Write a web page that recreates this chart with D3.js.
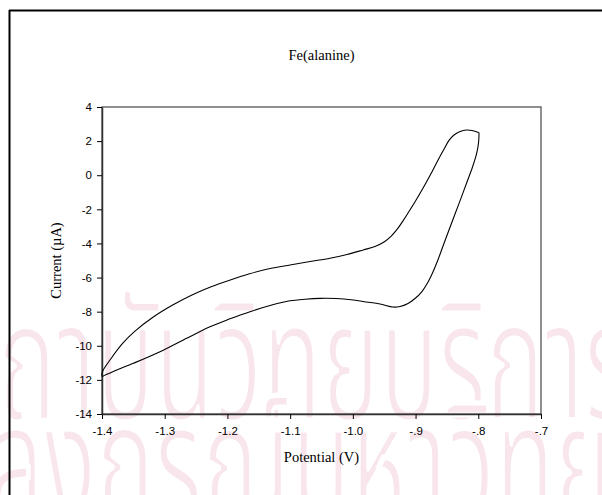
<!DOCTYPE html>
<html>
<head>
<meta charset="utf-8">
<script src="https://cdn.jsdelivr.net/npm/d3@7/dist/d3.min.js"></script>
<style>
  body { margin: 0; background: #fff; }
  svg { display: block; }
</style>
</head>
<body>
<svg id="chart" width="602" height="495"></svg>
<script>
// Cyclic voltammogram of Fe(alanine): one closed scan, listed in path order
// (down the right-hand branch, leftwards along the lower branch, back along the upper one).
const potential = [
  -0.7988, -0.7995, -0.8025, -0.8092, -0.8180, -0.8275, -0.8371, -0.8467, -0.8562, -0.8650,
  -0.8730, -0.8810, -0.8905, -0.9009, -0.9121, -0.9248, -0.9360,
  -0.9567, -0.9790, -0.9993, -1.0269, -1.0524, -1.0763, -1.1002, -1.1321, -1.1640, -1.1959,
  -1.2278, -1.2649, -1.3075, -1.3501, -1.3745, -1.3968, -1.3995,
  -1.3992, -1.3852, -1.3668, -1.3483, -1.3177, -1.2873, -1.2565, -1.2260, -1.1954, -1.1648,
  -1.1321, -1.1002, -1.0683, -1.0364, -1.0093, -0.9833, -0.9647, -0.9503, -0.9392, -0.9296,
  -0.9200, -0.9105, -0.9001, -0.8889, -0.8770, -0.8658, -0.8554, -0.8467, -0.8387, -0.8299,
  -0.8184, -0.8100, -0.7988
];
const current = [
  2.49, 1.95, 1.29, 0.48, -0.40, -1.34, -2.27, -3.21, -4.15, -5.03,
  -5.73, -6.32, -6.85, -7.23, -7.52, -7.70, -7.73,
  -7.55, -7.43, -7.32, -7.23, -7.22, -7.27, -7.36, -7.64, -8.00, -8.42,
  -8.88, -9.56, -10.35, -11.03, -11.39, -11.75, -11.80,
  -11.52, -10.73, -9.85, -9.17, -8.30, -7.61, -7.02, -6.54, -6.14, -5.78,
  -5.47, -5.26, -5.06, -4.87, -4.65, -4.38, -4.18, -3.92, -3.59, -3.18,
  -2.68, -2.13, -1.51, -0.81, -0.02, 0.78, 1.48, 2.04, 2.36, 2.55,
  2.65, 2.62, 2.49
];

const xTicks = [-1.4, -1.3, -1.2, -1.1, -1.0, -0.9, -0.8, -0.7];
const xTickLabels = ["-1.4", "-1.3", "-1.2", "-1.1", "-1.0", "-.9", "-.8", "-.7"];
const yTicks = [4, 2, 0, -2, -4, -6, -8, -10, -12, -14];
const yTickLabels = ["4", "2", "0", "-2", "-4", "-6", "-8", "-10", "-12", "-14"];

const titleText = "Fe(alanine)";
const xLabelText = "Potential (V)";
const yLabelText = "Current (\u00B5A)";
const watermarkLines = ["\u0E2A\u0E16\u0E32\u0E1A\u0E31\u0E19\u0E27\u0E34\u0E17\u0E22\u0E1A\u0E23\u0E34\u0E01\u0E32\u0E23",
                        "\u0E08\u0E38\u0E2C\u0E32\u0E25\u0E07\u0E01\u0E23\u0E13\u0E4C\u0E21\u0E2B\u0E32\u0E27\u0E34\u0E17\u0E22\u0E32\u0E25\u0E31\u0E22"];

const svg = d3.select("#chart");
const W = 602, H = 495;
const plot = { left: 102, top: 107, width: 439, height: 307 };

// faint, tall background lettering of the page (a white outline thins the strokes)
const wmFont = "'Noto Sans Thai', 'Noto Sans', sans-serif";
const wm = svg.append("g").attr("fill", "#f8e6ec")
  .attr("stroke", "#fff").attr("stroke-width", 5).attr("stroke-linejoin", "round");
wm.append("g").attr("transform", "translate(0,420) scale(0.58,1)")
  .append("text").attr("x", -100).attr("y", 0)
  .style("font-family", wmFont).style("font-size", "168px")
  .text(watermarkLines[0]);
wm.append("g").attr("transform", "translate(0,522) scale(0.58,1)")
  .append("text").attr("x", -290).attr("y", 0)
  .style("font-family", wmFont).style("font-size", "168px")
  .text(watermarkLines[1]);

// page frame (left and top edges)
svg.append("line").attr("x1", 9.5).attr("y1", 10).attr("x2", 9.5).attr("y2", H)
  .attr("stroke", "#000").attr("stroke-width", 2);
svg.append("line").attr("x1", 9).attr("y1", 10.5).attr("x2", W).attr("y2", 10.5)
  .attr("stroke", "#000").attr("stroke-width", 2);

const x = d3.scaleLinear().domain([-1.4, -0.7]).range([plot.left, plot.left + plot.width]);
const y = d3.scaleLinear().domain([-14, 4]).range([plot.top + plot.height, plot.top]);

// plot box
svg.append("rect")
  .attr("x", plot.left).attr("y", plot.top)
  .attr("width", plot.width).attr("height", plot.height)
  .attr("fill", "none").attr("stroke", "#555").attr("stroke-width", 1.3);

const tickFont = "'Liberation Sans', Arial, sans-serif";
const serif = "'Liberation Serif', 'Times New Roman', serif";

const xAxis = svg.append("g")
  .attr("transform", `translate(0,${plot.top + plot.height})`)
  .call(d3.axisBottom(x).tickValues(xTicks)
    .tickFormat((d, i) => xTickLabels[i]).tickSizeInner(5).tickSizeOuter(0).tickPadding(8));
const yAxis = svg.append("g")
  .attr("transform", `translate(${plot.left},0)`)
  .call(d3.axisLeft(y).tickValues(yTicks)
    .tickFormat((d, i) => yTickLabels[i]).tickSizeInner(5).tickSizeOuter(0).tickPadding(5));

[xAxis, yAxis].forEach(g => {
  g.select(".domain").attr("stroke", "#333").attr("stroke-width", 1.5);
  g.selectAll(".tick line").attr("stroke", "#000").attr("stroke-width", 1);
  g.selectAll(".tick text").attr("fill", "#000")
    .style("font-family", tickFont).style("font-size", "11.5px");
});

// voltammogram trace
const pts = potential.map((p, i) => [p, current[i]]);
svg.append("path")
  .datum(pts)
  .attr("fill", "none")
  .attr("stroke", "#000")
  .attr("stroke-width", 1.1)
  .attr("stroke-linejoin", "round")
  .attr("d", d3.line().x(d => x(d[0])).y(d => y(d[1])).curve(d3.curveCatmullRom.alpha(0.5)));

// titles
svg.append("text").attr("x", plot.left + plot.width / 2).attr("y", 60)
  .attr("text-anchor", "middle").style("font-family", serif).style("font-size", "14.5px")
  .text(titleText);
svg.append("text").attr("x", plot.left + plot.width / 2).attr("y", 462)
  .attr("text-anchor", "middle").style("font-family", serif).style("font-size", "14.5px")
  .text(xLabelText);
svg.append("text")
  .attr("transform", `translate(61,${plot.top + plot.height / 2}) rotate(-90)`)
  .attr("text-anchor", "middle").style("font-family", serif).style("font-size", "14.5px")
  .text(yLabelText);
</script>
</body>
</html>
